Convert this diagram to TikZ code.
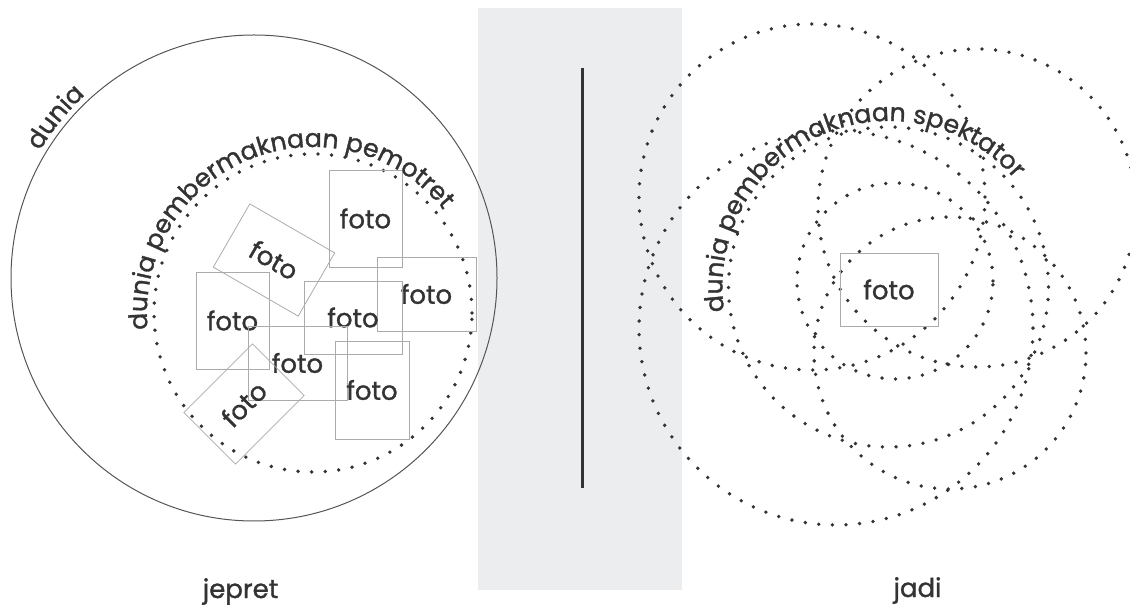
\documentclass[tikz,border=0pt]{standalone}
\usepackage{fontspec}
\setmainfont{Poppins}[FakeBold=1.2]
\usetikzlibrary{decorations.text,calc}
\definecolor{ink}{HTML}{333333}
\definecolor{panel}{HTML}{ECEDEF}
\definecolor{boxgray}{HTML}{ABABAB}
\definecolor{ringgray}{HTML}{555555}
\begin{document}
\begin{tikzpicture}[x=1pt,y=1pt,
  lbl/.style={text=ink, font=\fontsize{26}{30}\selectfont},
  fotobox/.style={draw=boxgray, line width=0.8pt, text=ink, font=\fontsize{26}{30}\selectfont, inner sep=0pt},
  dotline/.style={draw=ink, line width=3.8pt, line cap=round, dash pattern=on 0pt off 13.6pt},
  ring/.style={draw=ringgray, line width=1pt},
  bar/.style={draw=ink, line width=3pt},
  curvetext/.style={decorate, decoration={text along path, text align=center, text color=ink, text={|\fontsize{25.2}{30}\selectfont|#1}}}]
\useasboundingbox (0,0) rectangle (1130,608);
\clip (0,0) rectangle (1130,608);
% gray panel
\fill[panel] (478,18) rectangle (682,600);
% centres
\coordinate (L1) at (254,330);
\coordinate (L2) at (313,295);
\coordinate (T1) at (812,411);
\coordinate (T2) at (977,400);
\coordinate (B1) at (836,280);
\coordinate (M2) at (888.5,321);
\coordinate (C3) at (950,255);
\coordinate (C4) at (895,327);
% left circles
\draw[ring] (L1) circle[radius=243];
\draw[dotline] (L2) circle[radius=159];
% right circles
\draw[dotline] (T1) circle[radius=173];
\draw[dotline] (T2) circle[radius=159];
\draw[dotline] (B1) circle[radius=197];
\draw[dotline] (M2) circle[radius=160];
\draw[dotline] (C3) circle[radius=136];
\draw[dotline] (C4) circle[radius=98];
% divider bar
\coordinate (bt) at (582,540);
\coordinate (bb) at (582,120);
\draw[bar] (bt) -- (bb);
% left photos
\node[fotobox, minimum width=73, minimum height=97] (f1) at (365.5,389.5) {foto};
\node[fotobox, minimum width=98, minimum height=73, rotate=-30] (f2) at (274,348) {foto};
\node[fotobox, minimum width=99, minimum height=74] (f3) at (426.5,314) {foto};
\node[fotobox, minimum width=73, minimum height=97] (f4) at (232.5,287.5) {foto};
\node[fotobox, minimum width=98, minimum height=73] (f5) at (353,290.5) {foto};
\node[fotobox, minimum width=99, minimum height=74] (f6) at (297.5,245) {foto};
\node[fotobox, minimum width=74, minimum height=98] (f7) at (372,218) {foto};
\node[fotobox, minimum width=97, minimum height=73, rotate=45] (f8) at (244,204) {foto};
% right photo
\node[fotobox, minimum width=98, minimum height=73] (fr) at (889,318.5) {foto};
% curved labels
\path[curvetext={dunia}] ($(L1)+(166:249)$) arc[start angle=166, end angle=116, radius=249];
\path[curvetext={dunia pembermaknaan pemotret}] ($(L2)+(192:166)$) arc[start angle=192, end angle=32, radius=166];
\path[curvetext={dunia pembermaknaan spektator}] ($(M2)+(194.5:166)$) arc[start angle=194.5, end angle=34.5, radius=166];
% bottom labels
\node[lbl, anchor=base] (jepret) at (240.5,10) {jepret};
\node[lbl, anchor=base] (jadi) at (917.5,11) {jadi};
\end{tikzpicture}
\end{document}
